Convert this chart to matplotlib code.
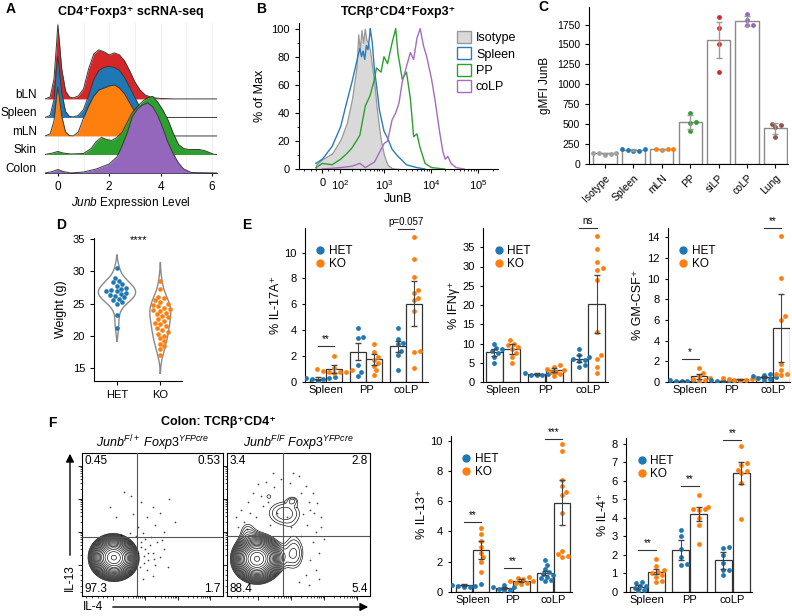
import numpy as np
import matplotlib
matplotlib.use('Agg')  # no display
import matplotlib.pyplot as plt
from matplotlib.patches import Patch
from matplotlib.lines import Line2D

plt.rcParams['font.family'] = ['Liberation Sans', 'DejaVu Sans']
plt.rcParams['mathtext.fontset'] = 'custom'
plt.rcParams['mathtext.rm'] = 'Liberation Sans'
plt.rcParams['mathtext.it'] = 'Liberation Sans:italic'
plt.rcParams['mathtext.bf'] = 'Liberation Sans:bold'
plt.rcParams['font.size'] = 7.5
plt.rcParams['axes.linewidth'] = 0.8
plt.rcParams['xtick.major.width'] = 0.8
plt.rcParams['ytick.major.width'] = 0.8
plt.rcParams['xtick.major.size'] = 3
plt.rcParams['ytick.major.size'] = 3

BLUE, ORANGE, GREEN = '#1f77b4', '#ff7f0e', '#2ca02c'
RED, PURPLE, BROWN, GRAY = '#d62728', '#9467bd', '#8c564b', '#a0a0a0'

# ----- A : ridge plot (relative density, arbitrary units) -----
ridge_names = ['bLN', 'Spleen', 'mLN', 'Skin', 'Colon']
ridge_colors = [RED, BLUE, ORANGE, GREEN, PURPLE]
ridge_x_lymph = [-0.5, -0.3, -0.15, -0.05, 0, 0.05, 0.15, 0.3, 0.45, 0.6, 0.8, 1.0, 1.2, 1.4,
                 1.6, 1.8, 2.0, 2.2, 2.4, 2.6, 2.8, 3.0, 3.2, 3.4, 3.6, 3.8, 4.0, 4.5, 6.2]
ridge_bln = [0, 2, 20, 55, 74, 60, 30, 8, 2, 1, 3, 10, 30, 45, 49, 47, 44, 46, 44, 38, 28, 17,
             9, 4, 2, 1, 0.5, 0, 0]
ridge_spleen = [0, 2, 18, 50, 61, 50, 25, 6, 1, 0.5, 2, 8, 22, 38, 47, 50, 51, 50, 47, 40, 30,
                20, 10, 4, 1.5, 0.5, 0, 0, 0]
ridge_mln = [0, 2, 15, 40, 49, 40, 20, 4, 0.5, 0, 4, 18, 30, 40, 46, 48, 50, 51, 48, 42, 33, 24,
             14, 7, 2, 0.5, 0, 0, 0]
ridge_x_skin = [-0.5, -0.2, 0, 0.2, 0.5, 1.0, 1.3, 1.5, 1.7, 1.9, 2.1, 2.3, 2.5, 2.7, 2.9, 3.1,
                3.3, 3.5, 3.7, 3.9, 4.1, 4.3, 4.5, 4.7, 4.9, 5.1, 5.3, 5.5, 5.7, 5.9, 6.1, 6.2]
ridge_skin = [0, 1.5, 3, 1.5, 0.5, 1, 6, 13, 17, 15, 14, 17, 22, 32, 42, 48, 53, 57, 58, 52, 44,
              34, 21, 10, 6, 5, 5, 5, 4, 2, 0, 0]
ridge_x_colon = [-0.5, -0.2, 0, 0.2, 0.5, 1.0, 1.5, 2.0, 2.3, 2.5, 2.7, 2.9, 3.1, 3.3, 3.5, 3.7,
                 3.9, 4.1, 4.3, 4.5, 4.7, 4.9, 5.2, 6.2]
ridge_colon = [0, 1.5, 3.5, 1.5, 0, 1, 4, 9, 16, 27, 40, 56, 64, 68, 70, 66, 57, 44, 30, 19, 10,
               4, 0.5, 0]

# ----- B : JunB histograms (% of max) -----
b_iso_x = [-32, 0, 49, 101, 150, 200, 255, 278, 302, 329, 357, 388, 421, 457, 503, 564, 630,
           694, 802, 869, 1004, 1195, 1494, 2090]
b_iso_y = [3, 7, 11, 21, 33, 50, 73, 96, 85, 99, 90, 100, 92, 90, 85, 72, 60, 45, 28, 20, 10, 3,
           0.5, 0]
b_spl_x = [-32, 0, 49, 101, 150, 200, 255, 302, 329, 357, 388, 421, 457, 503, 511, 564, 630,
           694, 802, 1004, 1195, 1494, 1990, 3010, 5000, 7440]
b_spl_y = [4, 7, 16, 30, 48, 62, 76, 86, 80, 84, 78, 88, 85, 97, 100, 90, 70, 60, 42, 27, 22,
           14, 9, 3, 1, 0]
b_pp_x = [-32, 0, 49, 101, 150, 200, 302, 400, 503, 630, 694, 869, 1004, 1195, 1494, 1780, 1990,
          2450, 3010, 3640, 4270, 5000, 5860, 7440, 10220, 19300]
b_pp_y = [1, 4, 3, 7, 11, 15, 24, 45, 52, 64, 72, 69, 80, 75, 90, 100, 82, 64, 69, 50, 23, 25,
          15, 4, 1, 0]
b_colp_x = [0, 101, 200, 302, 400, 630, 1004, 1195, 1494, 1780, 2090, 2450, 3010, 3640, 4270,
            5000, 5860, 6870, 8060, 10220, 11980, 15200, 17800, 19900, 22600, 26500, 33600, 50000]
b_colp_y = [0, 1, 2, 4, 1, 5, 18, 20, 35, 40, 47, 62, 73, 83, 78, 93, 100, 88, 80, 64, 50, 26,
            12, 7, 9, 4, 1, 0]

# ----- C : gMFI JunB -----
c_groups = ['Isotype', 'Spleen', 'mLN', 'PP', 'siLP', 'coLP', 'Lung']
c_colors = [GRAY, BLUE, ORANGE, GREEN, RED, PURPLE, BROWN]
c_points = [[118, 125, 132, 140, 143], [165, 168, 172, 185, 190], [180, 182, 185, 188],
            [420, 520, 525, 645], [1150, 1510, 1710, 1840], [1740, 1750, 1810, 1880],
            [345, 460, 490, 505]]
c_means = [132, 176, 184, 528, 1552, 1795, 450]
c_err = [10, 12, 4, 90, 225, 60, 70]

# ----- D : weight -----
d_groups = ['HET', 'KO']
d_het = [30.5, 29.0, 28.6, 28.3, 28.0, 27.8, 27.5, 27.3, 27.1, 27.0, 26.9, 26.7, 26.5, 26.4,
         26.2, 26.0, 25.8, 25.5, 25.3, 25.0, 23.3, 21.3]
d_ko = [28.6, 27.3, 26.1, 25.9, 25.6, 25.3, 25.0, 24.8, 24.6, 24.4, 24.2, 24.0, 23.8, 23.6, 23.4,
        23.1, 22.9, 22.6, 22.3, 22.0, 21.8, 21.5, 21.2, 20.9, 20.6, 20.3, 20.0, 19.6, 19.2, 18.8,
        18.4, 18.0, 17.0]

# ----- E / F : cytokine bar charts (Spleen, PP, coLP) -----
tissues = ['Spleen', 'PP', 'coLP']

il17_het = [[0.4, 0.35, 0.3, 0.3, 0.25, 0.2, 0.1], [4.2, 3.5, 3.4, 1.35, 0.8, 0.5],
            [4.2, 3.3, 3.0, 2.9, 2.4, 2.1, 0.9]]
il17_ko = [[2.0, 1.1, 1.0, 0.9, 0.85, 0.8, 0.8, 0.75, 0.7], [2.95, 2.3, 1.95, 1.7, 1.5, 1.25, 0.9, 0.55],
           [11.2, 9.5, 8.1, 7.1, 6.9, 6.5, 6.3, 5.5, 2.4, 2.35, 1.1]]
il17_het_mean, il17_het_err = [0.27, 2.35, 2.75], [0.08, 0.65, 0.4]
il17_ko_mean, il17_ko_err = [1.0, 1.75, 6.05], [0.3, 0.45, 1.75]
il17_sig = [(0, '**', 2.8), (2, 'p=0.057', 11.85)]

ifng_het = [[9.9, 8.8, 8.5, 8.0, 7.5, 6.5, 5.0], [2.6, 2.3, 2.0, 1.9, 1.8, 1.7],
            [8.7, 7.0, 6.5, 6.0, 5.8, 5.5, 4.5, 4.0]]
ifng_ko = [[11.0, 10.0, 9.5, 9.0, 8.5, 7.5, 6.5, 5.0], [4.3, 4.0, 3.5, 3.0, 2.7, 2.5, 2.0, 1.5],
           [37.9, 34.6, 31.1, 29.6, 29.2, 26.5, 13.1, 7.0, 6.1, 3.9, 2.3]]
ifng_het_mean, ifng_het_err = [7.7, 2.0, 6.1], [1.0, 0.3, 0.8]
ifng_ko_mean, ifng_ko_err = [8.7, 3.2, 20.3], [1.3, 0.5, 7.6]
ifng_sig = [(2, 'ns', 40)]

gmcsf_het = [[0.2, 0.15, 0.1, 0.1, 0.05], [0.2, 0.1, 0.1, 0.05, 0.05],
             [0.75, 0.7, 0.6, 0.5, 0.4, 0.3, 0.2]]
gmcsf_ko = [[1.4, 0.9, 0.6, 0.4, 0.3, 0.2, 0.1], [0.4, 0.35, 0.3, 0.25, 0.2, 0.15, 0.1],
            [14.1, 10.1, 6.4, 6.0, 1.7, 1.2, 0.8, 0.75, 0.7]]
gmcsf_het_mean, gmcsf_het_err = [0.1, 0.1, 0.45], [0.03, 0.03, 0.1]
gmcsf_ko_mean, gmcsf_ko_err = [0.55, 0.25, 5.2], [0.25, 0.05, 3.3]
gmcsf_sig = [(0, '*', 2.27), (2, '**', 14.9)]

il13_het = [[0.55, 0.5, 0.45, 0.4, 0.4, 0.35, 0.3], [0.45, 0.35, 0.3, 0.2, 0.1, 0.1],
            [2.1, 1.8, 1.5, 1.3, 1.2, 1.1, 1.0, 0.9, 0.8, 0.7]]
il13_ko = [[4.25, 3.85, 3.4, 3.0, 2.6, 2.3, 2.0, 1.3], [1.0, 0.95, 0.85, 0.75, 0.7, 0.6, 0.6, 0.55],
           [9.8, 9.3, 7.4, 7.0, 6.6, 6.4, 5.2, 2.7, 2.5, 2.4, 2.3]]
il13_het_mean, il13_het_err = [0.45, 0.25, 1.25], [0.05, 0.05, 0.15]
il13_ko_mean, il13_ko_err = [2.75, 0.75, 5.9], [0.6, 0.12, 1.5]
il13_sig = [(0, '**', 4.63), (1, '**', 1.6), (2, '***', 10.1)]

il4_het = [[0.55, 0.5, 0.35, 0.3, 0.2, 0.1, 0.05], [3.35, 3.0, 2.3, 1.9, 1.5, 1.45],
           [2.45, 2.35, 2.0, 1.55, 1.2, 1.2, 0.9]]
il4_ko = [[1.8, 1.4, 1.2, 1.1, 1.0, 0.9, 0.8, 0.6, 0.55], [5.25, 4.6, 4.5, 4.45, 4.4, 4.0, 3.6, 2.6],
          [7.85, 6.95, 6.85, 6.6, 6.5, 6.4, 5.85, 3.95]]
il4_het_mean, il4_het_err = [0.28, 2.25, 1.7], [0.1, 0.55, 0.45]
il4_ko_mean, il4_ko_err = [1.1, 4.2, 6.4], [0.15, 0.4, 0.6]
il4_sig = [(0, '**', 2.25), (1, '**', 5.7), (2, '**', 8.2)]

# ----- F : flow plots (quadrant %, density components x, y, sx, sy, weight) -----
flow_het_pct = ['0.45', '0.53', '97.3', '1.7']
flow_ko_pct = ['3.4', '2.8', '88.4', '5.4']
flow_het_comp = [(0.22, 0.27, 0.072, 0.068, 1.0), (0.28, 0.25, 0.06, 0.06, 0.12)]
flow_ko_comp = [(0.21, 0.26, 0.075, 0.072, 1.0), (0.47, 0.30, 0.06, 0.10, 0.075),
                (0.40, 0.58, 0.11, 0.08, 0.07), (0.14, 0.46, 0.05, 0.06, 0.05),
                (0.29, 0.70, 0.025, 0.022, 0.035), (0.46, 0.67, 0.028, 0.022, 0.035)]
flow_het_dots = [(0.30, 0.73), (0.35, 0.70), (0.42, 0.66), (0.50, 0.62), (0.55, 0.58), (0.46, 0.55),
                 (0.62, 0.68), (0.40, 0.48), (0.52, 0.50), (0.66, 0.52), (0.24, 0.55), (0.36, 0.57),
                 (0.58, 0.45), (0.20, 0.62), (0.42, 0.38), (0.45, 0.33), (0.48, 0.36), (0.50, 0.30),
                 (0.44, 0.28), (0.47, 0.25), (0.52, 0.22), (0.55, 0.27), (0.41, 0.20), (0.46, 0.18),
                 (0.50, 0.14), (0.43, 0.12), (0.58, 0.33), (0.61, 0.20), (0.40, 0.30), (0.53, 0.38),
                 (0.49, 0.41), (0.57, 0.39), (0.38, 0.42), (0.43, 0.44), (0.34, 0.44), (0.28, 0.43),
                 (0.44, 0.23), (0.42, 0.34), (0.47, 0.30), (0.39, 0.25), (0.45, 0.40), (0.51, 0.26)]
flow_ko_dots = [(0.10, 0.60), (0.15, 0.66), (0.18, 0.72), (0.22, 0.78), (0.27, 0.80), (0.33, 0.76),
                (0.38, 0.82), (0.44, 0.79), (0.50, 0.84), (0.55, 0.77), (0.60, 0.72), (0.63, 0.65),
                (0.58, 0.60), (0.53, 0.57), (0.48, 0.62), (0.40, 0.66), (0.35, 0.58), (0.25, 0.63),
                (0.20, 0.55), (0.12, 0.52), (0.08, 0.48), (0.30, 0.50), (0.42, 0.55), (0.56, 0.50),
                (0.62, 0.45), (0.60, 0.38), (0.64, 0.30), (0.58, 0.25), (0.62, 0.18), (0.55, 0.15),
                (0.50, 0.10), (0.57, 0.08), (0.64, 0.12), (0.52, 0.42), (0.66, 0.55), (0.68, 0.40),
                (0.46, 0.86), (0.32, 0.86), (0.16, 0.58), (0.06, 0.55), (0.24, 0.70), (0.29, 0.66),
                (0.52, 0.72), (0.57, 0.66), (0.14, 0.47), (0.45, 0.48), (0.61, 0.58), (0.66, 0.48)]

W, H = 792, 616
fig = plt.figure(figsize=(W / 100, H / 100), dpi=100)


def box(x0, y0, x1, y1):
    return fig.add_axes([x0 / W, 1 - y1 / H, (x1 - x0) / W, (y1 - y0) / H])


def fx(x):
    return x / W


def fy(y):
    return 1 - y / H


def swarm_x(ax, xc, vals, size=5.0):
    # simple beeswarm in pixel space
    tr = ax.transData
    inv = tr.inverted()
    out = np.zeros(len(vals))
    placed = []
    steps = [0]
    for k in range(1, 30):
        steps += [k, -k]
    for i in np.argsort(vals):
        cx, cy = tr.transform((xc, vals[i]))
        for s in steps:
            cand = cx + s * size * 0.4
            if all((cand - qx) ** 2 + (cy - qy) ** 2 >= (size * 0.95) ** 2 for qx, qy in placed):
                break
        placed.append((cand, cy))
        out[i] = inv.transform((cand, cy))[0]
    return out


def clean(ax):
    ax.spines['top'].set_visible(False)
    ax.spines['right'].set_visible(False)


def panel_letter(x, y, s):
    fig.text(fx(x), fy(y), s, fontsize=10, fontweight='bold', ha='left', va='center')


# ----- A -----
ax = box(45, 23, 217, 173)
ridge_x = [ridge_x_lymph, ridge_x_lymph, ridge_x_lymph, ridge_x_skin, ridge_x_colon]
ridge_d = [ridge_bln, ridge_spleen, ridge_mln, ridge_skin, ridge_colon]
scale = 1 / 18.5
for i, name in enumerate(ridge_names):
    base = len(ridge_names) - 1 - i
    x = np.array(ridge_x[i])
    d = np.array(ridge_d[i]) * scale
    ax.fill_between(x, base, base + d, color=ridge_colors[i], lw=0, zorder=2 + i)
    ax.plot(x, base + d, color='#3a3a3a', lw=0.7, zorder=2.5 + i)
for g in range(7):
    ax.axvline(g, color='#ececec', lw=0.6, zorder=0)
ax.set_xlim(-0.5, 6.2)
ax.set_ylim(0, 8.1)
ax.set_yticks([len(ridge_names) - 1 - i + 0.3 for i in range(5)])
ax.set_yticklabels(ridge_names, fontsize=8.5)
ax.tick_params(axis='y', length=0, pad=6)
ax.set_xticks([0, 2, 4, 6])
ax.tick_params(axis='x', labelsize=8.5, length=2)
for sp in ['top', 'right', 'left']:
    ax.spines[sp].set_visible(False)
ax.spines['bottom'].set_linewidth(0.6)
ax.set_xlabel(r'$\mathit{Junb}$ Expression Level', fontsize=8.5, labelpad=2)
ax.set_title('CD4⁺Foxp3⁺ scRNA-seq', fontsize=9, fontweight='bold', pad=6)
panel_letter(6, 9, 'A')

# ----- B -----
ax = box(299, 23, 498, 169)
ax.set_xscale('function', functions=(lambda v: np.arcsinh(np.asarray(v) / 100.0),
                                     lambda u: 100.0 * np.sinh(np.asarray(u))))
ax.fill_between(b_iso_x, 0, b_iso_y, facecolor='#d9d9d9', edgecolor='#999999', lw=0.9, zorder=1)
ax.plot(b_spl_x, b_spl_y, color='#2b7bba', lw=1.0, zorder=3)
ax.plot(b_pp_x, b_pp_y, color='#2ca02c', lw=1.0, zorder=3)
ax.plot(b_colp_x, b_colp_y, color='#a56cc1', lw=1.0, zorder=3)
ax.set_xlim(-140, 2.6e5)
ax.set_ylim(0, 104)
ax.set_xticks([0, 100, 1000, 1e4, 1e5])
ax.set_xticklabels(['0', '$10^{2}$', '$10^{3}$', '$10^{4}$', '$10^{5}$'])
minor = [-100, -60, -30, 30, 60] + [k * 10 ** e for e in range(2, 5) for k in range(2, 10)] + [2e5]
ax.set_xticks(minor, minor=True)
ax.set_yticks(range(0, 101, 20))
ax.set_yticks(range(10, 101, 20), minor=True)
ax.tick_params(labelsize=8)
ax.tick_params(which='minor', length=1.5)
clean(ax)
ax.set_ylabel('% of Max', fontsize=9)
ax.set_xlabel('JunB', fontsize=9, labelpad=1)
ax.set_title('TCRβ⁺CD4⁺Foxp3⁺', fontsize=9, fontweight='bold', pad=6)
handles = [Patch(facecolor='#d9d9d9', edgecolor='#999999', label='Isotype'),
           Patch(facecolor='none', edgecolor='#2b7bba', label='Spleen'),
           Patch(facecolor='none', edgecolor='#2ca02c', label='PP'),
           Patch(facecolor='none', edgecolor='#a56cc1', label='coLP')]
ax.legend(handles=handles, loc='upper left', bbox_to_anchor=(0.77, 0.98), frameon=False,
          fontsize=9, handlelength=1.1, handleheight=1.1, handletextpad=0.4, labelspacing=0.25,
          borderaxespad=0)
panel_letter(256, 9, 'B')

# ----- C -----
ax = box(589, 7, 788, 164)
xs = np.arange(len(c_groups))
ax.set_xlim(-0.56, 6.44)
ax.set_ylim(0, 1970)
ax.bar(xs, c_means, width=0.82, facecolor='white', edgecolor='#8a8a8a', lw=1.0, zorder=1)
for i in range(len(c_groups)):
    px = swarm_x(ax, i, c_points[i], size=4.8)
    ax.scatter(px, c_points[i], s=12, color=c_colors[i], zorder=3, lw=0)
ax.errorbar(xs, c_means, yerr=c_err, fmt='none', ecolor='#9a9a9a', elinewidth=1.0, capsize=2.5,
            zorder=4)
ax.set_xticks(xs)
ax.set_xticklabels(c_groups, rotation=45, ha='right', rotation_mode='anchor', fontsize=7.5)
ax.set_yticks(range(0, 1751, 250))
ax.tick_params(labelsize=7.5)
clean(ax)
ax.set_ylabel('gMFI JunB', fontsize=8.5)
panel_letter(538, 7, 'C')

# ----- D -----
ax = box(94, 238, 182, 381)
ax.set_xlim(-0.53, 1.5)
ax.set_ylim(13, 35.2)


def kde(vals):
    v = np.asarray(vals)
    bw = v.std(ddof=1) * len(v) ** (-1 / 5)
    grid = np.linspace(v.min() - 2 * bw, v.max() + 2 * bw, 200)
    dens = np.exp(-0.5 * ((grid[:, None] - v[None, :]) / bw) ** 2).sum(1)
    dens /= len(v) * bw * np.sqrt(2 * np.pi)
    return grid, dens


violins = [kde(d_het), kde(d_ko)]
wscale = 0.43 / violins[0][1].max()
for i, (grid, dens) in enumerate(violins):
    hw = dens * wscale
    ax.plot(np.concatenate([i - hw, (i + hw)[::-1], [i - hw[0]]]),
            np.concatenate([grid, grid[::-1], [grid[0]]]), color='#8a8a8a', lw=1.0, zorder=1)
for i, (vals, col) in enumerate([(d_het, BLUE), (d_ko, ORANGE)]):
    px = swarm_x(ax, i, vals, size=4.6)
    ax.scatter(px, vals, s=11, color=col, lw=0, zorder=3)
ax.set_xticks([0, 1])
ax.set_xticklabels(d_groups, fontsize=8)
ax.set_yticks(range(15, 36, 5))
ax.tick_params(labelsize=8)
clean(ax)
ax.set_ylabel('Weight (g)', fontsize=9)
ax.text(0.5, 34.9, '****', ha='center', va='center', fontsize=8)
panel_letter(56, 225, 'D')


# ----- E / F bar charts -----
def pair_chart(rect, het, ko, het_mean, ko_mean, het_err, ko_err, xlim, ymax, yticks, ylabel,
               sigs):
    ax = box(*rect)
    ax.set_xlim(*xlim)
    ax.set_ylim(0, ymax)
    off = 0.21
    for g in range(len(tissues)):
        for j, (pts, m, e, col) in enumerate([(het[g], het_mean[g], het_err[g], BLUE),
                                              (ko[g], ko_mean[g], ko_err[g], ORANGE)]):
            xc = g + (2 * j - 1) * off
            ax.bar(xc, m, width=0.4, facecolor='white', edgecolor='#333333', lw=0.9, zorder=1)
            px = swarm_x(ax, xc, pts, size=4.8)
            ax.scatter(px, pts, s=12, color=col, lw=0, zorder=3)
            ax.errorbar(xc, m, yerr=e, fmt='none', ecolor='#444444', elinewidth=0.8, capsize=2,
                        zorder=4)
    for g, txt, y in sigs:
        ax.plot([g - off, g + off], [y, y], color='#333333', lw=0.8, clip_on=False, zorder=5)
        ax.text(g, y + ymax * 0.012, txt, ha='center', va='bottom', fontsize=7)
    ax.set_xticks(range(len(tissues)))
    ax.set_xticklabels(tissues, fontsize=8)
    ax.set_yticks(yticks)
    ax.tick_params(labelsize=8, length=2.5)
    ax.tick_params(axis='x', length=0, pad=2)
    clean(ax)
    ax.set_ylabel(ylabel, fontsize=9, labelpad=2)
    handles = [Line2D([], [], marker='o', ls='', color=BLUE, markersize=5, label='HET'),
               Line2D([], [], marker='o', ls='', color=ORANGE, markersize=5, label='KO')]
    ax.legend(handles=handles, loc='upper left', bbox_to_anchor=(0.03, 0.92), frameon=False,
              fontsize=8.5, handletextpad=0.1, labelspacing=0.1, borderaxespad=0,
              handlelength=1.2)
    return ax


pair_chart((305, 228, 428, 382), il17_het, il17_ko, il17_het_mean, il17_ko_mean, il17_het_err,
           il17_ko_err, (-0.525, 2.55), 11.9, range(0, 11, 2), '% IL-17A⁺', il17_sig)
pair_chart((483, 228, 608, 382), ifng_het, ifng_ko, ifng_het_mean, ifng_ko_mean, ifng_het_err,
           ifng_ko_err, (-0.47, 2.47), 40, range(0, 36, 5), '% IFNγ⁺', ifng_sig)
pair_chart((668, 228, 790, 382), gmcsf_het, gmcsf_ko, gmcsf_het_mean, gmcsf_ko_mean,
           gmcsf_het_err, gmcsf_ko_err, (-0.54, 2.42), 14.9, range(0, 15, 2), '% GM-CSF⁺',
           gmcsf_sig)
panel_letter(242, 225, 'E')

pair_chart((451, 436, 572, 592), il13_het, il13_ko, il13_het_mean, il13_ko_mean, il13_het_err,
           il13_ko_err, (-0.53, 2.46), 10.3, range(0, 11, 2), '% IL-13⁺', il13_sig)
pair_chart((626, 438, 752, 592), il4_het, il4_ko, il4_het_mean, il4_ko_mean, il4_het_err,
           il4_ko_err, (-0.5, 2.46), 8.3, range(0, 9, 1), '% IL-4⁺', il4_sig)


# ----- F flow plots -----
def flow_plot(rect, comps, dots, pct, vline, hline, title):
    ax = box(*rect)
    ax.set_xlim(0, 1)
    ax.set_ylim(0, 1)
    gx, gy = np.meshgrid(np.linspace(0, 1, 300), np.linspace(0, 1, 300))
    dens = np.zeros_like(gx)
    for cx, cy, sx, sy, w in comps:
        dens += w * np.exp(-0.5 * (((gx - cx) / sx) ** 2 + ((gy - cy) / sy) ** 2))
    dens /= dens.max()
    levels = np.geomspace(0.045, 0.97, 20)
    ax.contour(gx, gy, dens, levels=levels, colors='black', linewidths=0.45, zorder=2)
    dx, dy = zip(*dots)
    ax.scatter(dx, dy, s=1.5, color='#444444', lw=0, zorder=1)
    ax.axvline(vline, color='#555555', lw=0.8, zorder=3)
    ax.axhline(hline, color='#555555', lw=0.8, zorder=3)
    kw = dict(fontsize=8.5, zorder=4)
    ax.text(0.02, 0.985, pct[0], ha='left', va='top', **kw)
    ax.text(0.985, 0.985, pct[1], ha='right', va='top', **kw)
    ax.text(0.02, 0.005, pct[2], ha='left', va='bottom', **kw)
    ax.text(0.985, 0.005, pct[3], ha='right', va='bottom', **kw)
    major = [0.22, 0.45, 0.68, 0.91]
    minor = [0.03, 0.07, 0.11, 0.15, 0.18]
    for m in major[:-1]:
        minor += [m + 0.23 * np.log10(k) for k in range(2, 10)]
    ax.set_xticks(major)
    ax.set_yticks(major)
    ax.set_xticks(minor, minor=True)
    ax.set_yticks(minor, minor=True)
    ax.tick_params(labelbottom=False, labelleft=False, length=3, width=0.6)
    ax.tick_params(which='minor', length=1.5, width=0.5)
    ax.set_title(title, fontsize=9, pad=3)
    return ax


flow_plot((82, 453, 223, 596), flow_het_comp, flow_het_dots, flow_het_pct, 0.39, 0.41,
          r'$\mathit{Junb}^{F/+}\ \mathit{Foxp3}^{YFPcre}$')
axf = flow_plot((227, 453, 370, 596), flow_ko_comp, flow_ko_dots, flow_ko_pct, 0.39, 0.42,
                r'$\mathit{Junb}^{F/F}\ \mathit{Foxp3}^{YFPcre}$')
fig.text(fx(218), fy(422), 'Colon: TCRβ⁺CD4⁺', fontsize=9, fontweight='bold', ha='center',
         va='center')
panel_letter(48, 423, 'F')
axf.annotate('', xy=(fx(70), fy(451)), xytext=(fx(70), fy(558)), xycoords='figure fraction',
             textcoords='figure fraction', annotation_clip=False,
             arrowprops=dict(arrowstyle='-|>', color='black', lw=1.0, mutation_scale=12))
axf.annotate('', xy=(fx(371), fy(607)), xytext=(fx(110), fy(607)), xycoords='figure fraction',
             textcoords='figure fraction', annotation_clip=False,
             arrowprops=dict(arrowstyle='-|>', color='black', lw=1.0, mutation_scale=12))
fig.text(fx(70), fy(578), 'IL-13', rotation=90, fontsize=8.5, ha='center', va='center')
fig.text(fx(93), fy(607), 'IL-4', fontsize=8.5, ha='center', va='center')

fig.savefig('out.png', dpi=100)
